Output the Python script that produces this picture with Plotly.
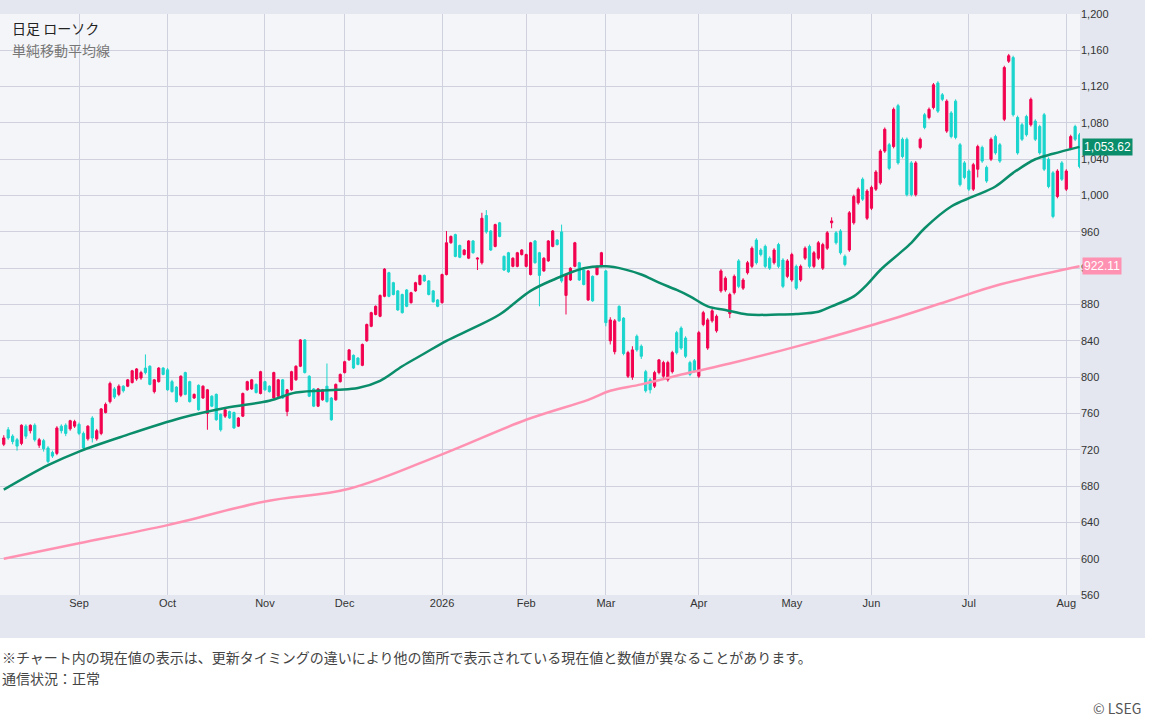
import pandas as pd
import plotly.graph_objects as go

# --- trading days (TSE calendar, Aug 2025 - Aug 2026) ---
holidays = ["2025-08-11", "2025-09-15", "2025-09-23", "2025-10-13", "2025-11-03",
            "2025-11-24", "2025-12-31", "2026-01-01", "2026-01-02", "2026-01-12",
            "2026-02-11", "2026-02-23", "2026-03-20", "2026-04-29", "2026-05-04",
            "2026-05-05", "2026-05-06", "2026-07-20"]
days = pd.bdate_range("2025-08-06", "2026-08-06")
days = days[~days.isin(pd.to_datetime(holidays))]

# --- daily candles ---
open_ = [726, 742, 735, 731, 727, 746, 741, 747, 725, 730, 722, 717, 716, 746, 747, 743, 746,
         748, 738, 732, 755, 732, 738, 761, 773, 787, 781, 790, 790, 794, 798, 799, 810, 812, 784, 795, 810,
         808, 795, 789, 780, 805, 795, 777, 791, 777, 760, 779, 781, 759, 757, 762, 761, 746, 757, 786, 787, 792, 782,
         795, 790, 777, 779, 797, 762, 786, 797, 812, 841, 801, 787, 768, 775, 790, 777, 775, 795,
         805, 819, 824, 821, 813, 840, 856, 869, 867, 889, 915, 904, 895, 891, 896, 882, 895, 902, 912, 906, 895, 885,
         882, 913, 948, 957, 945, 935, 931, 950, 930, 926, 978, 961, 944, 970, 933, 937, 922, 922, 935,
         922, 913, 950, 937, 917, 928, 944, 951, 960, 890, 907, 922, 926, 918, 885, 911, 913, 922,
         917, 840, 828, 878, 865, 801, 800, 845, 834, 806, 797, 790, 805, 801, 797, 806, 849, 854, 843, 816, 818,
         801, 858, 832, 862, 851, 895, 896, 870, 893, 928, 898, 915, 922, 951, 940, 944, 931, 926, 946, 929, 911,
         907, 922, 907, 931, 944, 922, 931, 920, 942, 970, 959, 961, 933, 940, 970, 992, 1018, 975,
         986, 1007, 1014, 1049, 1056, 1054, 1099, 1062, 1062, 1036, 1001, 1053, 1089, 1086, 1097, 1124, 1111, 1071,
         1091, 1104, 1056, 1036,
         1027, 1007, 1029, 1053, 1031, 1040, 1065, 1056, 1084, 1148, 1152, 1086, 1078, 1087, 1078, 1082, 1076, 1089,
         1040, 1025, 999, 1036,
         1007, 1052, 1076, 1067]
high = [736, 745, 737, 733, 748, 748, 748, 749, 733, 732, 724, 719, 746, 748, 749, 753, 753,
        750, 740, 747, 757, 743, 766, 772, 795, 789, 792, 791, 798, 808, 810, 807, 825, 813, 798, 811, 811,
        810, 797, 790, 802, 806, 796, 782, 792, 791, 787, 780, 782, 760, 765, 763, 762, 756, 783, 796, 798, 793, 807,
        796, 791, 806, 798, 798, 787, 807, 813, 842, 842, 802, 788, 788, 787, 815, 778, 793, 804,
        818, 831, 825, 822, 837, 859, 872, 879, 891, 920, 916, 905, 896, 892, 897, 894, 905, 913, 913, 907, 896, 886,
        914, 961, 956, 958, 946, 941, 951, 951, 932, 981, 984, 962, 969, 971, 934, 938, 932, 938, 941,
        936, 949, 951, 938, 932, 951, 962, 952, 968, 914, 921, 949, 927, 919, 918, 912, 923, 938,
        918, 866, 864, 879, 866, 829, 834, 847, 836, 808, 799, 807, 820, 818, 818, 829, 851, 856, 845, 818, 820,
        851, 873, 865, 875, 869, 919, 911, 893, 913, 930, 909, 928, 944, 953, 942, 946, 933, 942, 948, 931, 930,
        937, 924, 924, 944, 946, 939, 950, 948, 961, 976, 961, 963, 935, 983, 1001, 1009, 1020, 1007,
        1011, 1028, 1051, 1075, 1058, 1097, 1101, 1064, 1064, 1038, 1038, 1064, 1091, 1097, 1124, 1126, 1113, 1106,
        1093, 1106, 1058, 1038,
        1029, 1036, 1056, 1055, 1033, 1064, 1067, 1058, 1143, 1156, 1154, 1088, 1080, 1089, 1108, 1084, 1078, 1091,
        1042, 1027, 1029, 1038,
        1029, 1067, 1078, 1069]
low = [724, 731, 726, 719, 725, 732, 738, 729, 722, 718, 705, 711, 714, 738, 735, 741, 744,
       736, 720, 730, 728, 730, 736, 760, 771, 776, 779, 783, 789, 793, 796, 797, 803, 791, 782, 794, 802,
       785, 783, 772, 778, 780, 772, 776, 763, 776, 742, 767, 752, 740, 755, 754, 743, 745, 756, 785, 786, 782, 781,
       785, 783, 776, 778, 776, 757, 785, 796, 811, 804, 778, 767, 767, 774, 772, 752, 774, 794,
       804, 818, 809, 813, 812, 839, 855, 868, 866, 888, 888, 890, 873, 870, 877, 881, 894, 901, 905, 890, 882, 877,
       881, 912, 947, 932, 931, 934, 930, 936, 918, 924, 958, 939, 943, 954, 917, 915, 921, 921, 934,
       921, 912, 925, 878, 916, 927, 943, 945, 904, 869, 906, 921, 906, 901, 884, 883, 912, 921,
       856, 836, 825, 861, 824, 799, 797, 828, 820, 783, 782, 788, 803, 799, 795, 804, 825, 830, 821, 801, 805,
       799, 856, 830, 860, 849, 893, 894, 865, 891, 898, 896, 913, 920, 924, 933, 920, 918, 924, 920, 898, 909,
       905, 896, 905, 929, 920, 920, 929, 918, 940, 964, 946, 935, 922, 938, 968, 990, 994, 973,
       984, 1005, 1012, 1047, 1028, 1052, 1034, 1041, 999, 999, 999, 1051, 1073, 1084, 1095, 1091, 1104, 1069,
       1063, 1062, 1010, 1018,
       1005, 1005, 1020, 1036, 1014, 1038, 1045, 1036, 1082, 1146, 1087, 1045, 1060, 1065, 1076, 1060, 1045, 1027,
       1008, 975, 997, 1016,
       1005, 1050, 1060, 1030]
close = [733, 733, 729, 724, 747, 735, 747, 731, 731, 721, 707, 713, 744, 741, 738, 752, 751,
         738, 722, 746, 733, 741, 765, 770, 793, 778, 790, 785, 797, 807, 809, 805, 805, 792, 797, 810, 803,
         786, 784, 773, 801, 781, 773, 781, 764, 790, 786, 768, 753, 742, 764, 755, 744, 755, 782, 795, 797, 783, 806,
         786, 784, 805, 797, 777, 786, 806, 812, 841, 805, 779, 768, 787, 786, 773, 753, 792, 803,
         817, 830, 810, 814, 836, 858, 871, 878, 890, 919, 889, 891, 874, 871, 878, 893, 904, 912, 906, 891, 883, 878,
         913, 948, 955, 933, 932, 940, 950, 937, 931, 975, 960, 940, 968, 955, 918, 916, 931, 937, 940,
         935, 948, 926, 912, 931, 950, 961, 946, 906, 913, 920, 948, 907, 902, 917, 884, 922, 937,
         860, 863, 862, 862, 826, 827, 830, 830, 823, 785, 786, 805, 819, 816, 816, 827, 827, 832, 823, 803, 807,
         849, 871, 863, 873, 867, 917, 909, 891, 911, 900, 907, 926, 942, 926, 935, 922, 920, 940, 922, 900, 928,
         935, 898, 922, 942, 922, 937, 948, 946, 959, 972, 948, 937, 924, 981, 999, 1007, 996, 1005,
         1009, 1026, 1049, 1073, 1030, 1095, 1036, 1043, 1001, 1001, 1036, 1062, 1075, 1095, 1122, 1093, 1106, 1104,
         1065, 1064, 1012, 1020,
         1007, 1034, 1054, 1038, 1016, 1062, 1047, 1038, 1141, 1154, 1089, 1047, 1062, 1067, 1106, 1062, 1047, 1029,
         1010, 977, 1027, 1018,
         1027, 1065, 1062, 1032]

# --- simple moving averages (sampled at trading-day index) ---
sma_mid_idx = [0, 10, 17, 27, 40, 50, 60, 66, 75, 80, 85, 90, 95, 100, 106, 112, 119, 124, 131, 136,
               140, 144, 148, 152, 155, 159, 163, 168, 175, 179, 184, 187, 192, 195, 198, 202, 205,
               208, 214, 219, 224, 228, 233, 237, 243]
sma_mid = [676, 703, 718, 735, 755, 766, 774, 783, 786, 788, 796, 812, 826, 840, 854, 869, 895, 907, 920, 922,
           919, 913, 904, 896, 889, 878, 874, 869, 869, 869.6, 872, 878, 889, 902, 918, 935, 948,
           964, 988, 999, 1010, 1025, 1040, 1046, 1053.62]
sma_long_idx = [0, 17, 37, 59, 78, 99, 118, 132, 137, 144, 155, 164, 180, 202, 214, 225, 243]
sma_long = [600, 617, 637, 663, 677, 715, 753, 775, 785, 792, 805, 815, 835, 866, 885, 902, 922.11]

month_names = ["Sep", "Oct", "Nov", "Dec", "2026", "Feb", "Mar", "Apr", "May", "Jun", "Jul", "Aug"]

# first trading day of every month after the first one
tick_pos = [i for i in range(1, len(days)) if days[i].month != days[i - 1].month]

UP = "#f2004f"
DOWN = "#19d5cd"
MID = "#0a8d6a"
LONG = "#ff92b2"
GRID = "#d0d1de"

x = list(range(len(days)))
fig = go.Figure()
fig.add_trace(go.Candlestick(
    x=x, open=open_, high=high, low=low, close=close,
    increasing=dict(line=dict(color=UP, width=1), fillcolor=UP),
    decreasing=dict(line=dict(color=DOWN, width=1), fillcolor=DOWN),
    hoverinfo="skip", showlegend=False,
))
fig.add_trace(go.Scatter(x=sma_long_idx, y=sma_long, mode="lines",
                         line=dict(color=LONG, width=2.5, shape="spline"),
                         hoverinfo="skip", showlegend=False))
fig.add_trace(go.Scatter(x=sma_mid_idx, y=sma_mid, mode="lines",
                         line=dict(color=MID, width=2.5, shape="spline"),
                         hoverinfo="skip", showlegend=False))

narrow = "Liberation Sans Narrow, Liberation Sans, Arial"
tick_font = dict(family=narrow, size=11, color="#333333")
jp = "Noto Sans CJK JP"

fig.update_layout(
    width=1152, height=720,
    margin=dict(l=0, r=72, t=14, b=125),
    paper_bgcolor="#e4e7ef",
    plot_bgcolor="#f4f5f8",
    showlegend=False,
    xaxis=dict(range=[-0.85, len(days) - 0.9], tickvals=tick_pos, ticktext=month_names,
               showgrid=True, gridcolor=GRID, gridwidth=1.2, zeroline=False, showline=False,
               ticks="", tickfont=tick_font, rangeslider=dict(visible=False), fixedrange=True),
    yaxis=dict(range=[560, 1200], dtick=40, side="right", tickformat=",",
               showgrid=True, gridcolor=GRID, gridwidth=1.2, zeroline=False, showline=False,
               ticks="", tickfont=tick_font, fixedrange=True),
    shapes=[
        dict(type="rect", xref="paper", yref="paper", x0=-0.01, x1=1.08, y0=-0.25, y1=-0.074,
             fillcolor="white", line_width=0, layer="above"),
        dict(type="rect", xref="paper", yref="paper", x0=1.0602, x1=1.08, y0=-0.25, y1=1.03,
             fillcolor="white", line_width=0, layer="above"),
    ],
    annotations=[
        dict(text="日足 ローソク", xref="paper", yref="paper", x=0.009, y=0.976, xanchor="left",
             yanchor="middle", showarrow=False, font=dict(family=jp, size=14, color="#222222")),
        dict(text="単純移動平均線", xref="paper", yref="paper", x=0.009, y=0.938, xanchor="left",
             yanchor="middle", showarrow=False, font=dict(family=jp, size=14, color="#777777")),
        dict(text=f"{sma_mid[-1]:,.2f}", xref="paper", yref="y", x=1.002, y=sma_mid[-1], xanchor="left",
             yanchor="middle", showarrow=False, bgcolor=MID, borderpad=1,
             font=dict(family=narrow, size=12, color="white")),
        dict(text=f"{sma_long[-1]:,.2f}", xref="paper", yref="y", x=1.002, y=sma_long[-1], xanchor="left",
             yanchor="middle", showarrow=False, bgcolor=LONG, borderpad=1,
             font=dict(family=narrow, size=12, color="white")),
        dict(text="※チャート内の現在値の表示は、更新タイミングの違いにより他の箇所で表示されている現在値と数値が異なることがあります。",
             xref="paper", yref="paper", x=0.0, y=-0.1067, xanchor="left", yanchor="middle",
             showarrow=False, font=dict(family=jp, size=14, color="#444444")),
        dict(text="通信状況：正常", xref="paper", yref="paper", x=0.0, y=-0.1429, xanchor="left",
             yanchor="middle", showarrow=False, font=dict(family=jp, size=14, color="#444444")),
        dict(text="© LSEG", xref="paper", yref="paper", x=1.0583, y=-0.1945, xanchor="right",
             yanchor="middle", showarrow=False, font=dict(family=jp, size=14, color="#555555")),
    ],
)

# the page's default body margin would shift the 1152x720 figure
fig.write_html("out.html", config={"displayModeBar": False},
               post_script="document.body.style.margin='0px';")
